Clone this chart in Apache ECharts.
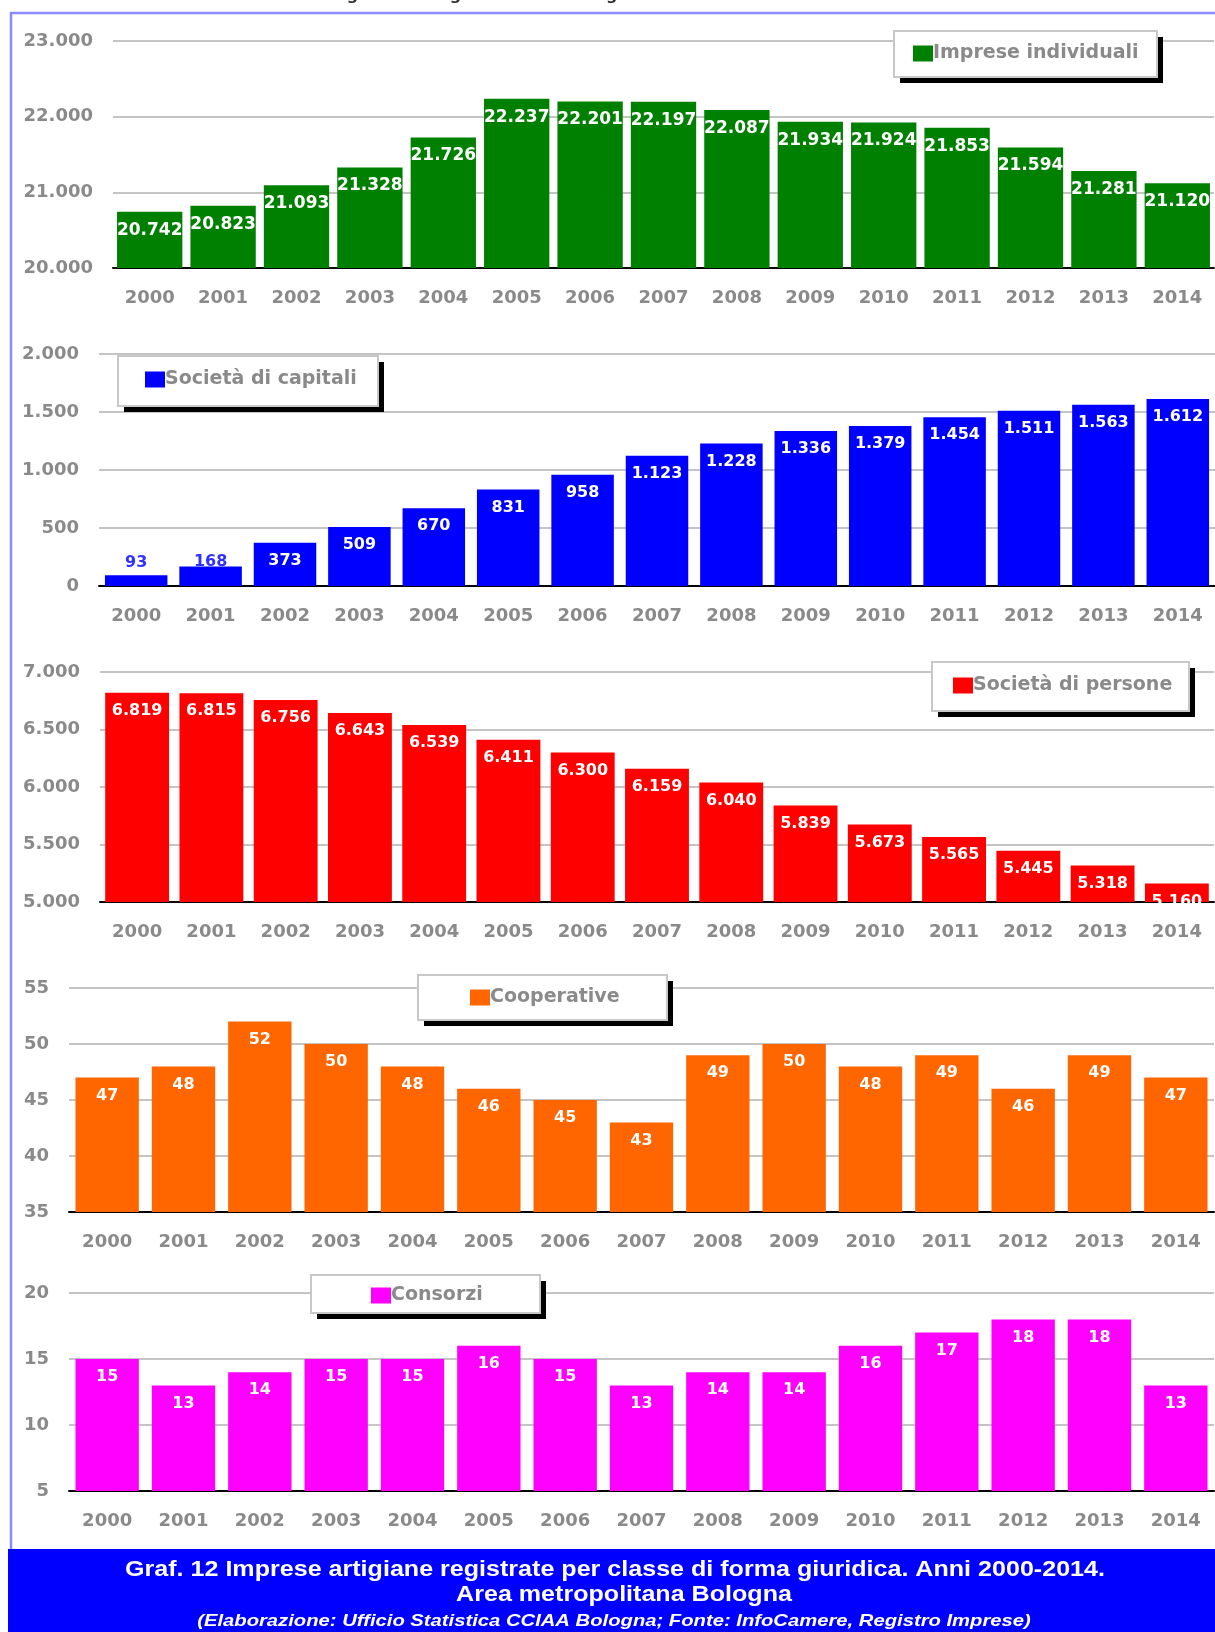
<!DOCTYPE html>
<html>
<head>
<meta charset="utf-8">
<script src="https://cdn.jsdelivr.net/npm/echarts@6/dist/echarts.min.js"></script>
<style>
html, body { margin: 0; padding: 0; background: #fff; }
#main { width: 1215px; height: 1632px; }
</style>
</head>
<body>
<div id="main"></div>
<script>
var years = ['2000', '2001', '2002', '2003', '2004', '2005', '2006', '2007', '2008', '2009', '2010', '2011', '2012', '2013', '2014']

var impreseIndividuali = [20742, 20823, 21093, 21328, 21726, 22237, 22201, 22197, 22087, 21934, 21924, 21853, 21594, 21281, 21120]
var societaCapitali = [93, 168, 373, 509, 670, 831, 958, 1123, 1228, 1336, 1379, 1454, 1511, 1563, 1612]
var societaPersone = [6819, 6815, 6756, 6643, 6539, 6411, 6300, 6159, 6040, 5839, 5673, 5565, 5445, 5318, 5160]
var cooperative = [47, 48, 52, 50, 48, 46, 45, 43, 49, 50, 48, 49, 46, 49, 47]
var consorzi = [15, 13, 14, 15, 15, 16, 15, 13, 14, 14, 16, 17, 18, 18, 13]

var seriesNames = ['Imprese individuali', 'Società di capitali', 'Società di persone', 'Cooperative', 'Consorzi']
var yMin = [20000, 0, 5000, 35, 5]
var yMax = [23000, 2000, 7000, 55, 20]
var yStep = [1000, 500, 500, 5, 5]

var allData = [impreseIndividuali, societaCapitali, societaPersone, cooperative, consorzi]
var colors = ['#008000', '#0000ff', '#ff0000', '#ff6600', '#ff00ff']

// posizione dei cinque pannelli
var grids = [
	{ left: 113, top: 41, width: 1101, height: 227 },
	{ left: 99, top: 354, width: 1116, height: 232 },
	{ left: 100, top: 672, width: 1114, height: 230 },
	{ left: 69, top: 988, width: 1145, height: 224 },
	{ left: 69, top: 1293, width: 1145, height: 198 },
]
var gaps = ['11%', '16%', '14%', '17%', '17%']
var labelSize = [17, 16, 16, 16, 16]

// riquadri delle legende (box con ombra) e posizione dell'icona
var legendBox = [
	{ x: 894, y: 31, w: 263, h: 46, iconX: 913, iconY: 45 },
	{ x: 118, y: 356, w: 260, h: 50, iconX: 145, iconY: 371 },
	{ x: 932, y: 662, w: 257, h: 49, iconX: 953, iconY: 677 },
	{ x: 418, y: 975, w: 249, h: 45, iconX: 470, iconY: 989 },
	{ x: 311, y: 1275, w: 229, h: 38, iconX: 371, iconY: 1287 },
]

function fmt(v) {
	return String(v).replace(/\B(?=(\d{3})+(?!\d))/g, '.')
}

var grayText = '#8a8a8a'
var font = 'DejaVu Sans'

var xAxis = [], yAxis = [], series = [], legend = []
var graphic = [
	{
		type: 'text', left: 23, top: -12,
		style: { text: 'Camera di Commercio Industria Artigianato e Agricoltura di Bologna', fill: '#333', font: 'bold 16px "DejaVu Sans"' },
	},
	{
		type: 'polyline', silent: true,
		shape: { points: [[11, 1549], [11, 13], [1215, 13]] },
		style: { stroke: '#8a8aff', lineWidth: 2.5, fill: null },
	},
]

for (var i = 0; i < 5; i++) {
	xAxis.push({
		type: 'category',
		gridIndex: i,
		data: years,
		axisLine: { lineStyle: { color: '#000', width: 2 } },
		axisTick: { length: 9, lineStyle: { color: '#000', width: 2 } },
		axisLabel: { color: grayText, fontFamily: font, fontWeight: 'bold', fontSize: 18, margin: 21 },
	})
	yAxis.push({
		type: 'value',
		gridIndex: i,
		min: yMin[i],
		max: yMax[i],
		interval: yStep[i],
		axisLine: { show: false },
		axisTick: { show: false },
		axisLabel: { color: grayText, fontFamily: font, fontWeight: 'bold', fontSize: 18, margin: 20, formatter: fmt },
		splitLine: { lineStyle: { color: '#c4c4c4', width: 2 } },
	})
	var d = allData[i].map(function (v) {
		if (i === 1 && v < 200) {
			return { value: v, label: { position: 'top', distance: v < 100 ? 4 : -3, color: '#3030ff' } }
		}
		return v
	})
	series.push({
		type: 'bar',
		name: seriesNames[i],
		xAxisIndex: i,
		yAxisIndex: i,
		data: d,
		barCategoryGap: gaps[i],
		itemStyle: { color: colors[i] },
		label: {
			show: true,
			position: 'insideTop',
			distance: 10,
			color: '#fff',
			fontFamily: font,
			fontWeight: 'bold',
			fontSize: labelSize[i],
			formatter: function (p) { return fmt(p.value) },
		},
	})
	var b = legendBox[i]
	// ombra nera e riquadro bianco
	graphic.push({
		type: 'rect', silent: true, z: 3,
		shape: { x: b.x + 6, y: b.y + 6, width: b.w, height: b.h },
		style: { fill: '#000' },
	})
	graphic.push({
		type: 'rect', silent: true, z: 3,
		shape: { x: b.x, y: b.y, width: b.w, height: b.h },
		style: { fill: '#fff', stroke: '#c8c8c8', lineWidth: 2 },
	})
	legend.push({
		data: [seriesNames[i]],
		left: b.iconX,
		top: b.iconY - 1,
		padding: 0,
		itemWidth: 20,
		itemHeight: 16,
		icon: 'rect',
		selectedMode: false,
		textStyle: { color: grayText, fontFamily: font, fontWeight: 'bold', fontSize: 19, padding: [0, 0, 0, -5] },
	})
}

graphic.push(
	{
		type: 'rect', silent: true,
		shape: { x: 8, y: 1549, width: 1207, height: 83 },
		style: { fill: '#0000ff' },
	},
	{
		type: 'text', x: 615, y: 1570, scaleX: 1.14,
		style: { text: 'Graf. 12 Imprese artigiane registrate per classe di forma giuridica. Anni 2000-2014.', fill: '#fff', font: 'bold 22px "Liberation Sans"', align: 'center', verticalAlign: 'middle' },
	},
	{
		type: 'text', x: 624, y: 1595, scaleX: 1.14,
		style: { text: 'Area metropolitana Bologna', fill: '#fff', font: 'bold 22px "Liberation Sans"', align: 'center', verticalAlign: 'middle' },
	},
	{
		type: 'text', x: 614, y: 1621, scaleX: 1.19,
		style: { text: '(Elaborazione: Ufficio Statistica CCIAA Bologna; Fonte: InfoCamere, Registro Imprese)', fill: '#fff', font: 'italic bold 17px "Liberation Sans"', align: 'center', verticalAlign: 'middle' },
	}
)

var myChart = echarts.init(document.getElementById('main'))
myChart.setOption({
	animation: false,
	grid: grids,
	xAxis: xAxis,
	yAxis: yAxis,
	series: series,
	legend: legend,
	graphic: graphic,
})
</script>
</body>
</html>
